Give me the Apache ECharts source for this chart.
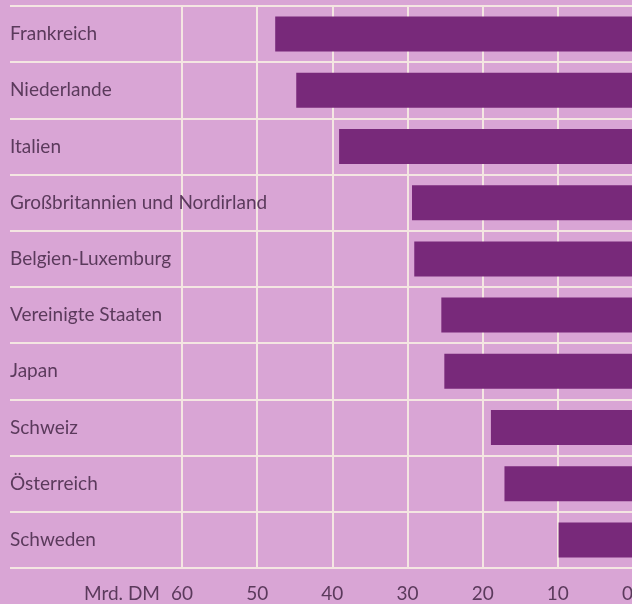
<!DOCTYPE html>
<html><head><meta charset="utf-8">
<script src="https://cdn.jsdelivr.net/npm/echarts@6/dist/echarts.min.js"></script>
<style>html,body{margin:0;padding:0;background:#d9a5d5;}#c{width:632px;height:604px;}</style>
</head><body><div id="c"></div>
<script>
const categories = ['Frankreich','Niederlande','Italien','Großbritannien und Nordirland','Belgien-Luxemburg','Vereinigte Staaten','Japan','Schweiz','Österreich','Schweden'];
const values = [47.6, 44.8, 39.1, 29.4, 29.1, 25.5, 25.1, 18.9, 17.1, 9.9];
const axisUnit = 'Mrd. DM';
const xMin = 0, xMax = 60, xStep = 10;

const lineColor = '#f4e6e2';
const textColor = '#5b3a5c';
const font = 'Lato';
const fs = 19;
const chart = echarts.init(document.getElementById('c'));
chart.setOption({
  backgroundColor: '#d9a5d5',
  animation: false,
  grid: [
    {left: 182, right: -1, top: 6, bottom: 36, outerBoundsMode: 'none', containLabel: false},
    {left: 10, right: -1, top: 6, bottom: 36, outerBoundsMode: 'none', containLabel: false}
  ],
  xAxis: [
    {gridIndex: 0, type: 'value', inverse: true, min: xMin, max: xMax, interval: xStep,
     axisLine: {show: false}, axisTick: {show: false},
     splitLine: {show: true, lineStyle: {color: lineColor, width: 2}},
     axisLabel: {color: textColor, fontFamily: font, fontSize: fs, margin: 16, alignMinLabel: 'right'},
     name: axisUnit, nameLocation: 'end', nameGap: 22,
     nameTextStyle: {color: textColor, fontFamily: font, fontSize: fs, verticalAlign: 'top', padding: [16,0,0,0]}},
    {gridIndex: 1, type: 'value', show: false, min: 0, max: 1}
  ],
  yAxis: [
    {gridIndex: 0, type: 'category', inverse: true, data: categories, show: false},
    {gridIndex: 1, type: 'category', inverse: true, data: categories,
     axisLine: {show: false}, axisTick: {show: false},
     splitLine: {show: true, lineStyle: {color: lineColor, width: 2}},
     axisLabel: {inside: true, margin: 0, color: textColor, fontFamily: font, fontSize: fs}}
  ],
  series: [{
    type: 'bar', xAxisIndex: 0, yAxisIndex: 0, data: values, barWidth: 35,
    itemStyle: {color: '#78297a'}
  }]
});
</script></body></html>
